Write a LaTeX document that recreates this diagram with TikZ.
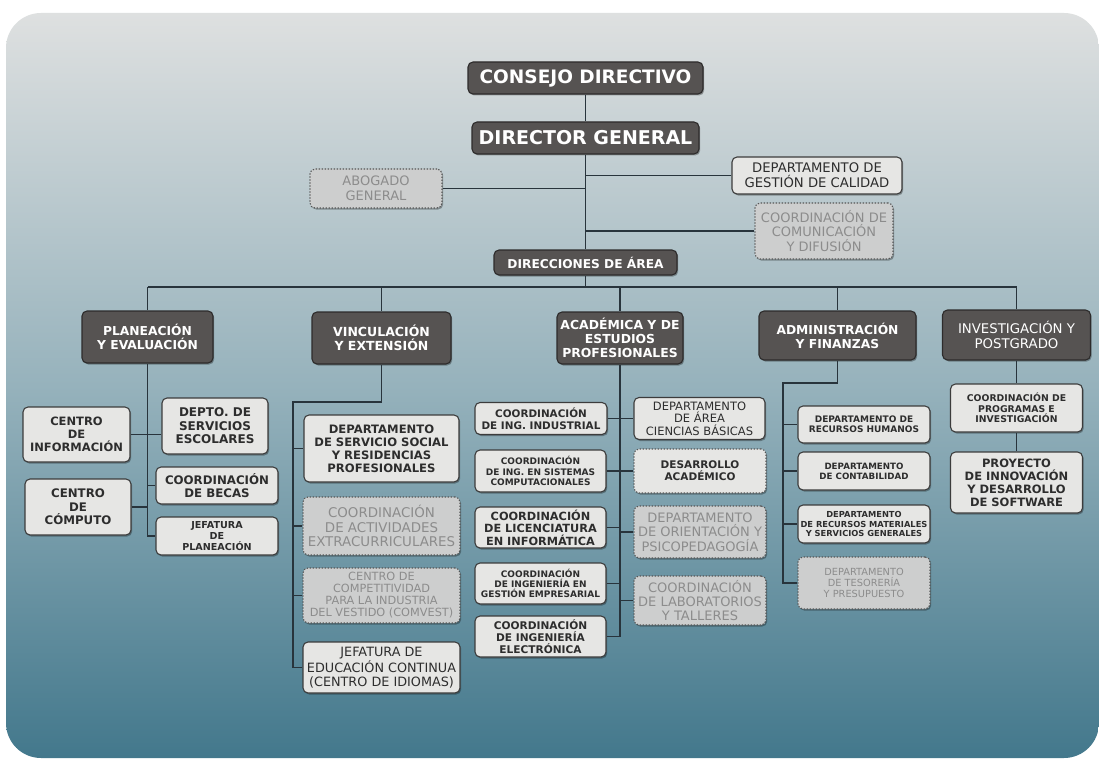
\documentclass[tikz,border=0pt]{standalone}
\usepackage{fontspec}
\setmainfont{DejaVu Sans}
\usetikzlibrary{shadows}
\definecolor{bgtop}{RGB}{222,224,224}
\definecolor{bgmid}{RGB}{150,178,188}
\definecolor{bgbot}{RGB}{67,120,140}
\definecolor{darkfill}{RGB}{86,83,82}
\definecolor{darkline}{RGB}{45,43,43}
\definecolor{lightfill}{RGB}{230,230,228}
\definecolor{lightline}{RGB}{60,60,60}
\definecolor{lighttext}{RGB}{45,45,45}
\definecolor{greyfill}{RGB}{205,206,206}
\definecolor{greyline}{RGB}{85,85,85}
\definecolor{greytext}{RGB}{140,140,140}
\definecolor{connc}{RGB}{40,52,60}
\newcommand\fb[1]{\fontsize{#1}{\fpeval{#1*1.13}}\selectfont\bfseries}
\newcommand\fr[1]{\fontsize{#1}{\fpeval{#1*1.13}}\selectfont}
\newcommand\frl[2]{\fontsize{#1}{#2}\selectfont}
\newcommand\fbl[2]{\fontsize{#1}{#2}\selectfont\bfseries}
\tikzset{
  box/.style={rounded corners=5pt, align=center, inner sep=0pt, line width=1.1pt,
    drop shadow={shadow xshift=1.2pt, shadow yshift=-1.5pt, opacity=0.3, fill=black}},
  dark/.style={box, fill=darkfill, draw=darkline, text=white},
  light/.style={box, fill=lightfill, draw=lightline, text=lighttext},
  grey/.style={box, fill=greyfill, draw=greyline, dash pattern=on 1.3pt off 1.7pt, text=greytext},
  dotlight/.style={box, fill=lightfill, draw=greyline, dash pattern=on 1.3pt off 1.7pt, text=lighttext},
  conn/.style={draw=connc, line width=1.3pt},
}
\begin{document}
\begin{tikzpicture}[x=1pt,y=-1pt]
\useasboundingbox (0,0) rectangle (1099,762);
\fill[white] (0,0) rectangle (1099,762);
\shade[top color=bgtop, bottom color=bgbot, middle color=bgmid, rounded corners=35pt] (6,13) rectangle (1099,758);

% top
\node[dark, minimum width=235pt, minimum height=32pt, font=\fb{18.5}] (consejo) at (585.5,78) {CONSEJO DIRECTIVO};
\node[dark, minimum width=227pt, minimum height=32pt, font=\fb{19}] (director) at (585.5,138) {DIRECTOR GENERAL};
\node[light, minimum width=170pt, minimum height=37pt, font=\fr{13.2}] (calidad) at (817,175.5) {DEPARTAMENTO DE\\GESTIÓN DE CALIDAD};
\node[grey, minimum width=132pt, minimum height=39pt, font=\fr{13}] (abogado) at (376,188.5) {ABOGADO\\GENERAL};
\node[grey, minimum width=138pt, minimum height=56pt, font=\frl{13}{14.6}] (comunic) at (824,231) {COORDINACIÓN DE\\COMUNICACIÓN\\Y DIFUSIÓN};
\node[dark, minimum width=183pt, minimum height=25pt, font=\fb{12.2}] (direcc) at (585.5,262.5) {DIRECCIONES DE ÁREA};

% level 2
\node[dark, minimum width=131pt, minimum height=52pt, font=\fb{12.3}] (plan) at (147.5,337) {PLANEACIÓN\\Y EVALUACIÓN};
\node[dark, minimum width=139pt, minimum height=52pt, font=\fb{12.5}] (vinc) at (381.5,338) {VINCULACIÓN\\Y EXTENSIÓN};
\node[dark, minimum width=126pt, minimum height=52pt, font=\fb{12.4}] (acad) at (620,338) {ACADÉMICA Y DE\\ESTUDIOS\\PROFESIONALES};
\node[dark, minimum width=157pt, minimum height=49pt, font=\fb{12.3}] (admin) at (837.5,335.5) {ADMINISTRACIÓN\\Y FINANZAS};
\node[dark, minimum width=148pt, minimum height=50pt, font=\fr{13.3}] (inv) at (1016.5,335) {INVESTIGACIÓN Y\\POSTGRADO};

% planeacion
\node[light, minimum width=106pt, minimum height=56pt, font=\fb{12}] (servesc) at (215,426) {DEPTO. DE\\SERVICIOS\\ESCOLARES};
\node[light, minimum width=107pt, minimum height=55pt, font=\fb{11.5}] (cinfo) at (76.5,434.5) {CENTRO\\DE\\INFORMACIÓN};
\node[light, minimum width=122pt, minimum height=37pt, font=\fb{11.8}] (becas) at (217,485.5) {COORDINACIÓN\\DE BECAS};
\node[light, minimum width=106pt, minimum height=56pt, font=\fb{11.8}] (ccomp) at (78,507) {CENTRO\\DE\\CÓMPUTO};
\node[light, minimum width=122pt, minimum height=38pt, font=\fb{9.6}] (jefplan) at (217,536) {JEFATURA\\DE\\PLANEACIÓN};

% vinculacion
\node[light, minimum width=155pt, minimum height=67pt, font=\fb{11.6}] (sersoc) at (381.5,448.5) {DEPARTAMENTO\\DE SERVICIO SOCIAL\\Y RESIDENCIAS\\PROFESIONALES};
\node[grey, minimum width=157pt, minimum height=58pt, font=\frl{13.4}{14.4}] (extrac) at (381.5,526) {COORDINACIÓN\\DE ACTIVIDADES\\EXTRACURRICULARES};
\node[grey, minimum width=157pt, minimum height=55pt, font=\frl{11.3}{12}] (comvest) at (381.5,595.5) {CENTRO DE\\COMPETITIVIDAD\\PARA LA INDUSTRIA\\DEL VESTIDO (COMVEST)};
\node[light, minimum width=157pt, minimum height=51pt, font=\frl{12.8}{14}] (educ) at (381.5,667.5) {JEFATURA DE\\EDUCACIÓN CONTINUA\\(CENTRO DE IDIOMAS)};

% academica
\node[light, minimum width=132pt, minimum height=32pt, font=\fb{10.4}] (ind) at (541,418.5) {COORDINACIÓN\\DE ING. INDUSTRIAL};
\node[light, minimum width=131pt, minimum height=42pt, font=\frl{11.5}{12.6}] (cbas) at (699.5,418.5) {DEPARTAMENTO\\DE ÁREA\\CIENCIAS BÁSICAS};
\node[light, minimum width=131pt, minimum height=42pt, font=\fb{9}] (sist) at (540.5,471) {COORDINACIÓN\\DE ING. EN SISTEMAS\\COMPUTACIONALES};
\node[dotlight, minimum width=132pt, minimum height=44pt, font=\fb{10.5}] (desac) at (700,471) {DESARROLLO\\ACADÉMICO};
\node[light, minimum width=131pt, minimum height=41pt, font=\fbl{11.3}{12.4}] (lic) at (540.5,527.5) {COORDINACIÓN\\DE LICENCIATURA\\EN INFORMÁTICA};
\node[grey, minimum width=132pt, minimum height=52pt, font=\frl{13}{14.4}] (orient) at (700,532) {DEPARTAMENTO\\DE ORIENTACIÓN Y\\PSICOPEDAGOGÍA};
\node[light, minimum width=131pt, minimum height=41pt, font=\fb{9}] (gest) at (540.5,583.5) {COORDINACIÓN\\DE INGENIERÍA EN\\GESTIÓN EMPRESARIAL};
\node[grey, minimum width=132pt, minimum height=49pt, font=\frl{13}{14.2}] (lab) at (700,600.5) {COORDINACIÓN\\DE LABORATORIOS\\Y TALLERES};
\node[light, minimum width=131pt, minimum height=41pt, font=\fbl{10.6}{12}] (elec) at (540.5,636.5) {COORDINACIÓN\\DE INGENIERÍA\\ELECTRÓNICA};

% administracion
\node[light, minimum width=132pt, minimum height=37pt, font=\fb{9}] (rh) at (864,424.5) {DEPARTAMENTO DE\\RECURSOS HUMANOS};
\node[light, minimum width=132pt, minimum height=38pt, font=\fb{8.7}] (cont) at (864,471) {DEPARTAMENTO\\DE CONTABILIDAD};
\node[light, minimum width=132pt, minimum height=38pt, font=\fb{8.3}] (mat) at (864,524) {DEPARTAMENTO\\DE RECURSOS MATERIALES\\Y SERVICIOS GENERALES};
\node[grey, minimum width=132pt, minimum height=52pt, font=\fr{9.8}] (tes) at (864,583) {DEPARTAMENTO\\DE TESORERÍA\\Y PRESUPUESTO};

% investigacion
\node[light, minimum width=132pt, minimum height=48pt, font=\fb{9.3}] (prog) at (1016.5,408) {COORDINACIÓN DE\\PROGRAMAS E\\INVESTIGACIÓN};
\node[light, minimum width=132pt, minimum height=61pt, font=\fb{11.5}] (proy) at (1016.5,482.5) {PROYECTO\\DE INNOVACIÓN\\Y DESARROLLO\\DE SOFTWARE};

% connectors: top
\coordinate (br) at (585.5,287);
\draw[conn] (consejo.south) -- (director.north);
\draw[conn] (director.south) -- (direcc.north);
\draw[conn] (calidad.west) -- (calidad.west -| director.south);
\draw[conn] (abogado.east) -- (abogado.east -| director.south);
\draw[conn] (comunic.west) -- (comunic.west -| director.south);
\draw[conn] (direcc.south) -- (br);
\draw[conn] (plan.north |- br) -- (inv.north |- br);
\foreach \n in {plan,vinc,acad,admin,inv} \draw[conn] (\n.north |- br) -- (\n.north);

% planeacion
\draw[conn] (plan.south) |- (jefplan.west);
\draw[conn] (cinfo.east) -- (cinfo.east -| servesc.west);
\draw[conn] (plan.south |- becas.west) -- (becas.west);
\draw[conn] (ccomp.east) -- (ccomp.east -| plan.south);

% vinculacion
\coordinate (vbus) at (293,402);
\draw[conn] (vinc.south) |- (vbus) |- (educ.west);
\foreach \n in {sersoc,extrac,comvest} \draw[conn] (vbus |- \n.west) -- (\n.west);

% academica
\draw[conn] (acad.south) |- (elec.east);
\draw[conn] (ind.east) -- (cbas.west);
\draw[conn] (sist.east) -- (desac.west);
\foreach \n in {lic,gest} \draw[conn] (\n.east) -- (\n.east -| acad.south);
\foreach \n in {orient,lab} \draw[conn] (\n.west) -- (\n.west -| acad.south);

% administracion
\coordinate (abus) at (783,383);
\draw[conn] (admin.south) |- (abus) |- (tes.west);
\foreach \n in {rh,cont,mat} \draw[conn] (abus |- \n.west) -- (\n.west);

% investigacion
\draw[conn] (inv.south) -- (prog.north);
\draw[conn] (prog.south) -- (proy.north);
\end{tikzpicture}
\end{document}
